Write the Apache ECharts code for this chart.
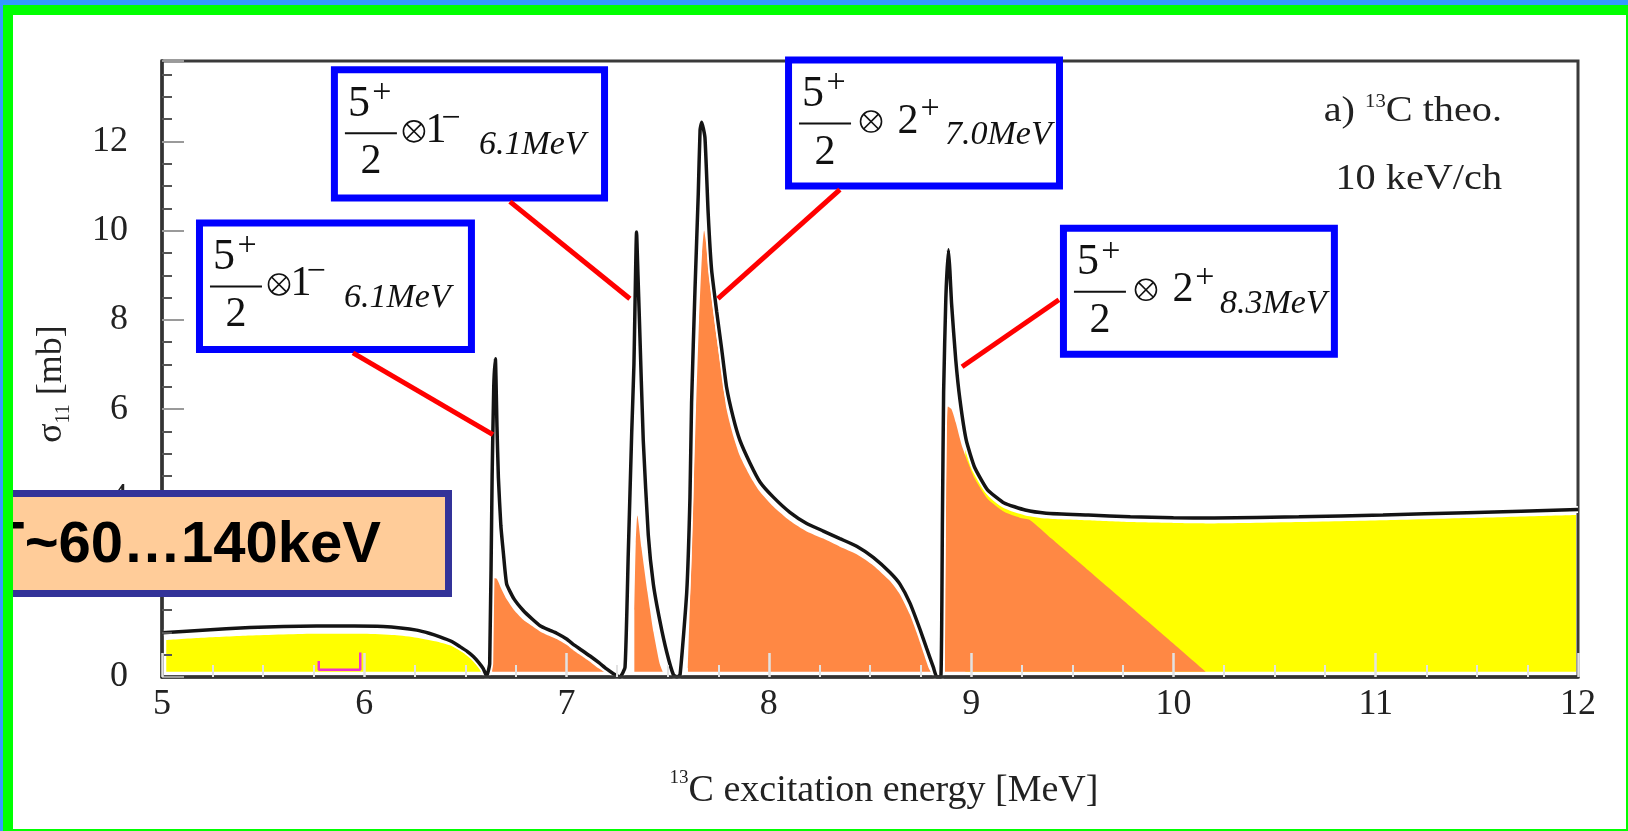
<!DOCTYPE html>
<html>
<head>
<meta charset="utf-8">
<script src="https://cdn.jsdelivr.net/npm/echarts/dist/echarts.min.js"></script>
<style>
html,body{margin:0;padding:0;background:#fff;overflow:hidden}
#c{width:1628px;height:831px}
</style>
</head>
<body>
<div id="c"></div>
<script>
// ---------------- data (energy in MeV, cross section in mb) ----------------
const totalCurve = [
 [5.00,0.99],[5.20,1.05],[5.435,1.11],[5.60,1.13],[5.765,1.14],[5.95,1.14],[6.093,1.13],[6.18,1.10],[6.259,1.05],[6.32,0.98],[6.374,0.90],[6.43,0.80],[6.473,0.68],[6.51,0.57],[6.539,0.46],[6.565,0.33],[6.588,0.19],[6.605,0.02],
 [6.62,0.3],[6.632,4.5],[6.64,6.5],[6.648,7.13],[6.656,5.6],[6.663,4.46],[6.675,3.4],[6.688,2.76],[6.704,2.08],[6.74,1.75],[6.786,1.49],[6.83,1.30],[6.869,1.15],[6.91,1.06],[6.951,0.98],[7.00,0.85],[7.033,0.73],[7.075,0.60],[7.116,0.47],[7.16,0.32],[7.198,0.18],[7.23,0.08],[7.264,0.0],
 [7.289,0.22],[7.305,2.76],[7.322,5.47],[7.333,7.0],[7.346,9.97],[7.353,9.0],[7.36,8.02],[7.379,5.31],[7.404,3.18],[7.429,2.08],[7.462,1.24],[7.495,0.56],[7.528,0.05],[7.545,0.0],
 [7.561,0.05],[7.594,1.9],[7.61,4.03],[7.618,6.15],[7.635,8.7],[7.651,10.82],[7.66,12.26],[7.668,12.43],[7.684,12.09],[7.70,10.39],[7.717,9.12],[7.742,8.19],[7.767,7.34],[7.791,6.49],[7.824,5.81],[7.857,5.30],[7.907,4.79],[7.956,4.37],[8.022,4.03],[8.104,3.69],[8.187,3.44],[8.269,3.27],[8.351,3.10],[8.434,2.93],[8.516,2.68],[8.599,2.34],[8.648,2.08],[8.697,1.66],[8.747,1.07],[8.78,0.64],[8.813,0.22],[8.83,0.0],
 [8.85,0.0],[8.858,3.5],[8.864,6.4],[8.875,8.5],[8.888,9.57],[8.895,9.1],[8.903,8.38],[8.924,7.1],[8.945,6.2],[8.976,5.3],[9.017,4.7],[9.08,4.2],[9.163,3.9],[9.267,3.74],[9.371,3.67],[9.579,3.63],[9.787,3.59],[10.0,3.57],[10.203,3.56],[10.62,3.59],[11.036,3.63],[11.451,3.68],[12.0,3.75]
];
const backgroundLow = [
 [5.021,0.83],[5.2,0.88],[5.435,0.93],[5.765,0.97],[6.0,0.97],[6.15,0.94],[6.26,0.88],[6.35,0.80],[6.43,0.70],[6.48,0.58],[6.52,0.45],[6.55,0.32],[6.575,0.18],[6.59,0.12]
];
const backgroundHigh = [
 [8.971,5.1],[9.017,4.58],[9.08,4.08],[9.163,3.78],[9.267,3.62],[9.371,3.55],[9.579,3.51],[9.787,3.47],[10.0,3.45],[10.203,3.44],[10.62,3.47],[11.036,3.51],[11.451,3.56],[11.99,3.63]
];
const resonance1 = [
 [6.632,2.0],[6.64,2.21],[6.655,2.2],[6.68,1.95],[6.704,1.74],[6.74,1.5],[6.786,1.28],[6.83,1.14],[6.869,1.02],[6.91,0.93],[6.951,0.85],[7.0,0.72],[7.033,0.6],[7.075,0.47],[7.116,0.34],[7.15,0.22],[7.185,0.12]
];
const resonance2 = [
 [7.335,1.5],[7.342,3.0],[7.35,3.62],[7.37,2.9],[7.40,1.9],[7.43,1.0],[7.46,0.3],[7.475,0.12]
];
const resonance3 = [
 [7.60,0.2],[7.62,3.0],[7.64,6.0],[7.655,8.0],[7.67,9.5],[7.68,10.0],[7.69,9.7],[7.70,9.2],[7.717,8.5],[7.742,7.6],[7.767,6.8],[7.791,6.0],[7.824,5.4],[7.857,4.95],[7.907,4.5],[7.956,4.15],[8.022,3.82],[8.104,3.5],[8.187,3.26],[8.269,3.1],[8.351,2.92],[8.434,2.75],[8.516,2.5],[8.599,2.15],[8.648,1.85],[8.697,1.4],[8.73,1.0],[8.76,0.6],[8.79,0.2],[8.80,0.12]
];
const resonance4 = [
 [8.87,1.0],[8.876,4.0],[8.885,6.06],[8.903,6.0],[8.924,5.7],[8.953,5.2],[8.985,4.8],[9.017,4.45],[9.08,4.0],[9.163,3.7],[9.24,3.57],[9.29,3.52],[9.40,3.09],[9.579,2.39],[9.787,1.58],[9.995,0.77],[10.16,0.12]
];
const resolutionBar = [[5.775,0.36],[5.775,0.16],[5.98,0.16],[5.98,0.55]];

// annotation boxes: anchors in data units
const boxMain = ['1','1','2','2'];
const boxSup = ['\u2212','\u2212','+','+'];
const boxSub = ['6.1MeV','6.1MeV','7.0MeV','8.3MeV'];
const boxLeftE = [5.168, 5.835, 8.08, 9.439];
const boxTopS = [10.25, 13.68, 13.9, 10.13];
const boxRightE = [6.547, 7.205, 9.454, 10.813];
const boxBottomS = [7.26, 10.65, 10.92, 7.15];
const leaderFrom = [[5.944,7.26],[6.72,10.65],[8.351,10.92],[9.434,8.45]];
const leaderTo = [[6.636,5.43],[7.313,8.475],[7.748,8.475],[8.955,6.95]];
const widthText = 'Γ~60…140keV';
const panelTitle = ['a) ', '13', 'C theo.'];
const panelBinning = '10 keV/ch';

// ---------------- chart ----------------
const SERIF = "'Liberation Serif', 'Times New Roman', serif";
const GAP = '-';
function joinSegments(list){
  const out = [];
  list.forEach((seg, i) => { if (i > 0) out.push([seg[0][0] - 0.0005, GAP]); seg.forEach(p => out.push(p)); });
  return out;
}
const chart = echarts.init(document.getElementById('c'), null, {renderer: 'canvas'});

const option = {
  animation: false,
  backgroundColor: '#ffffff',
  grid: {left: 162, right: 50, top: 61, bottom: 154, show: true, borderColor: '#3a3a3a', borderWidth: 3, backgroundColor: 'rgba(0,0,0,0)'},
  xAxis: {
    type: 'value', min: 5, max: 12, interval: 1, z: 3,
    axisLine: {show: true, onZero: false, lineStyle: {color: '#333', width: 3.5}},
    axisTick: {show: true, inside: true, length: 24, lineStyle: {color: '#e2e2e2', width: 2.5}},
    minorTick: {show: true, splitNumber: 4, length: 12, lineStyle: {color: '#e2e2e2', width: 2}},
    splitLine: {show: false}, minorSplitLine: {show: false},
    axisLabel: {fontFamily: SERIF, fontSize: 36, color: '#222', margin: 10},
    name: '{sup|13}{n|C excitation energy [MeV]}',
    nameLocation: 'middle', nameGap: 92,
    nameTextStyle: {
      fontFamily: SERIF, fontSize: 38, color: '#222', padding: [0, 0, 0, 28],
      rich: {
        sup: {fontFamily: SERIF, fontSize: 19, color: '#222', verticalAlign: 'top', lineHeight: 44},
        n: {fontFamily: SERIF, fontSize: 38, color: '#222', lineHeight: 44}
      }
    }
  },
  yAxis: {
    type: 'value', min: 0, max: 13.8, interval: 2, z: 3,
    axisLine: {show: true, onZero: false, lineStyle: {color: '#333', width: 3.5}},
    axisTick: {show: true, inside: true, length: 22, lineStyle: {color: '#9a9a9a', width: 2}},
    minorTick: {show: true, splitNumber: 4, length: 10, lineStyle: {color: '#555', width: 2}},
    splitLine: {show: false}, minorSplitLine: {show: false},
    axisLabel: {fontFamily: SERIF, fontSize: 36, color: '#222', margin: 34, showMaxLabel: false},
    name: '{a|σ}{b|11}{a| [mb]}',
    nameLocation: 'middle', nameRotate: 90, nameGap: 88,
    nameTextStyle: {
      color: '#222', padding: [0, 30, 0, 0],
      rich: {
        a: {fontFamily: SERIF, fontSize: 36, color: '#222', lineHeight: 44},
        b: {fontFamily: SERIF, fontSize: 20, color: '#222', verticalAlign: 'bottom', lineHeight: 44}
      }
    }
  },
  series: [
    {
      name: 'background', type: 'line', data: joinSegments([backgroundLow, backgroundHigh]),
      showSymbol: false, silent: true, smooth: 0.2, connectNulls: false,
      lineStyle: {opacity: 0, width: 0},
      areaStyle: {color: '#ffff00', opacity: 1, origin: 0.12}, z: 2
    },
    {
      name: 'resonances', type: 'line', data: joinSegments([resonance1, resonance2, resonance3, resonance4]),
      showSymbol: false, silent: true, smooth: 0.2, connectNulls: false,
      lineStyle: {opacity: 0, width: 0},
      areaStyle: {color: '#ff8844', opacity: 1, origin: 0.12}, z: 2
    },
    {
      name: 'halo', type: 'line', data: totalCurve, showSymbol: false, silent: true, smooth: 0.15,
      lineStyle: {color: '#ffffff', width: 7}, z: 2
    },
    {
      name: 'total', type: 'line', data: totalCurve, showSymbol: false, silent: true, smooth: 0.15,
      lineStyle: {color: '#141414', width: 3.5}, z: 2
    },
    {
      name: 'resolution', type: 'line', data: resolutionBar, showSymbol: false, silent: true,
      lineStyle: {color: '#ee33cc', width: 2.5}, z: 4
    }
  ]
};
chart.setOption(option);

// ---------------- annotations ----------------
const P = (e, s) => chart.convertToPixel({gridIndex: 0}, [e, s]);
function txt(text, x, y, size, extra) {
  return {type: 'text', x: x, y: y, style: Object.assign({
    text: text, fontFamily: SERIF, fontSize: size, fill: '#111', align: 'center', verticalAlign: 'middle'
  }, extra || {})};
}
function otimes(cx, cy, r) {
  const d = r * 0.7071;
  return [
    {type: 'circle', shape: {cx: cx, cy: cy, r: r}, style: {fill: 'none', stroke: '#111', lineWidth: 1.6}},
    {type: 'line', shape: {x1: cx - d, y1: cy - d, x2: cx + d, y2: cy + d}, style: {stroke: '#111', lineWidth: 1.6}},
    {type: 'line', shape: {x1: cx - d, y1: cy + d, x2: cx + d, y2: cy - d}, style: {stroke: '#111', lineWidth: 1.6}}
  ];
}
function mathBox(i) {
  const a = P(boxLeftE[i], boxTopS[i]);
  const b = P(boxRightE[i], boxBottomS[i]);
  const w = b[0] - a[0], h = b[1] - a[1];
  const two = boxMain[i] === '2';
  const children = [
    {type: 'rect', shape: {x: 3.5, y: 3.5, width: w - 7, height: h - 7}, style: {fill: '#fff', stroke: '#0000ff', lineWidth: 7}},
    txt('5', 28, 38, 44),
    txt('+', 51, 27, 34),
    {type: 'line', shape: {x1: 14, y1: 67, x2: 66, y2: 67}, style: {stroke: '#111', lineWidth: 2}},
    txt('2', 40, 96, 42),
    txt(boxMain[i], two ? 123 : 105, 65, 42),
    txt(boxSup[i], two ? 145 : 120, 53, 34),
    txt(boxSub[i], two ? 160 : 148, 79, 34, {align: 'left', fontStyle: 'italic'})
  ].concat(otimes(two ? 86 : 83, 65, 10.5));
  return {type: 'group', x: a[0], y: a[1], z: 50, children: children};
}
const graphics = [];
for (let i = 0; i < leaderFrom.length; i++) {
  const f = P(leaderFrom[i][0], leaderFrom[i][1]);
  const t = P(leaderTo[i][0], leaderTo[i][1]);
  graphics.push({type: 'line', z: 40, shape: {x1: f[0], y1: f[1], x2: t[0], y2: t[1]}, style: {stroke: '#ff0000', lineWidth: 5}});
}
for (let i = 0; i < boxMain.length; i++) graphics.push(mathBox(i));

// panel label (top right)
graphics.push({type: 'text', z: 50, x: 1502, y: 112, scaleX: 1.15, style: {
  text: '{n|' + panelTitle[0] + '}{s|' + panelTitle[1] + '}{n|' + panelTitle[2] + '}',
  align: 'right', verticalAlign: 'middle', fill: '#222',
  rich: {
    n: {fontFamily: SERIF, fontSize: 35, fill: '#222', lineHeight: 38},
    s: {fontFamily: SERIF, fontSize: 18, fill: '#222', verticalAlign: 'top', lineHeight: 38}
  }
}});
graphics.push({type: 'text', z: 50, x: 1502, y: 180, scaleX: 1.15, style: {
  text: panelBinning, fontFamily: SERIF, fontSize: 35, fill: '#222', align: 'right', verticalAlign: 'middle'
}});

// width callout box (overlay, partly off the left edge)
graphics.push({type: 'rect', z: 60, shape: {x: -16.5, y: 493.5, width: 465, height: 100}, style: {fill: '#ffcc99', stroke: '#333399', lineWidth: 7}});
graphics.push({type: 'text', z: 61, x: 381, y: 546, style: {
  text: widthText, fontFamily: "'Liberation Sans', Arial, sans-serif", fontWeight: 'bold', fontSize: 58, fill: '#000', align: 'right', verticalAlign: 'middle'
}});

// slide frame
const W = 1628, H = 831;
graphics.push({type: 'rect', z: 300, shape: {x: 0, y: 0, width: W, height: 5}, style: {fill: '#3399ff'}});
graphics.push({type: 'rect', z: 300, shape: {x: 0, y: 0, width: 3, height: H}, style: {fill: '#3399ff'}});
graphics.push({type: 'rect', z: 301, shape: {x: 3, y: 5, width: W - 3, height: 10}, style: {fill: '#00ff00'}});
graphics.push({type: 'rect', z: 301, shape: {x: 3, y: 5, width: 10, height: H - 5}, style: {fill: '#00ff00'}});
graphics.push({type: 'rect', z: 301, shape: {x: W - 2, y: 5, width: 2, height: H - 5}, style: {fill: '#00ff00'}});
graphics.push({type: 'rect', z: 301, shape: {x: 3, y: H - 2, width: W - 3, height: 2}, style: {fill: '#00ff00'}});

chart.setOption({graphic: graphics});
</script>
</body>
</html>
